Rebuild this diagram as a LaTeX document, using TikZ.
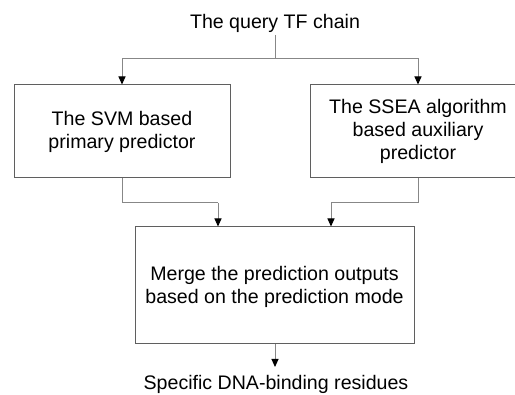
\documentclass[tikz,border=0pt]{standalone}
\usepackage{fontspec}
\setmainfont{Liberation Sans}
\usetikzlibrary{arrows.meta}
\definecolor{linegray}{RGB}{135,135,135}
\definecolor{boxgray}{RGB}{95,95,95}
\begin{document}
\begin{tikzpicture}[x=1pt,y=-1pt,
  every node/.style={font=\fontsize{19.6}{23}\selectfont},
  stagebox/.style={draw=boxgray,line width=1pt,align=center,inner sep=0pt},
  label/.style={inner sep=0pt,anchor=base},
  link/.style={draw=linegray,line width=1pt},
  flow/.style={link,-{Triangle[width=7pt,length=8pt,black]}}]
  \clip (0,0) rectangle (515,395);
  % input and output labels
  \node[label] (query) at (275,29) {The query TF chain};
  \node[label] (result) at (276,390) {Specific DNA-binding residues};
  % processing stages
  \node[stagebox,minimum width=216pt,minimum height=93pt] (svm) at (122,131.5)
    {The SVM based\\primary predictor};
  \node[stagebox,minimum width=216pt,minimum height=93pt] (ssea) at (418,131.5)
    {The SSEA algorithm\\based auxiliary\hspace*{17pt}\\predictor};
  \node[stagebox,minimum width=279pt,minimum height=117pt] (merge) at (274.5,285.5)
    {\rule{0pt}{17pt}Merge the prediction outputs\\based on the prediction mode};
  % junction points of the connectors
  \coordinate (split) at (275,59);
  \coordinate (joinL) at (218,203);
  \coordinate (joinR) at (331,203);
  % connectors
  \draw[link] (query.south |- 0,35) -- (split);
  \draw[flow] (split) -| (svm.north);
  \draw[flow] (split) -| (ssea.north);
  \draw[link] (svm.south) |- (joinL);
  \draw[flow] (joinL) -- (joinL |- merge.north);
  \draw[link] (ssea.south) |- (joinR);
  \draw[flow] (joinR) -- (joinR |- merge.north);
  \draw[flow] (merge.south -| 275,0) -- (275,367);
\end{tikzpicture}
\end{document}
